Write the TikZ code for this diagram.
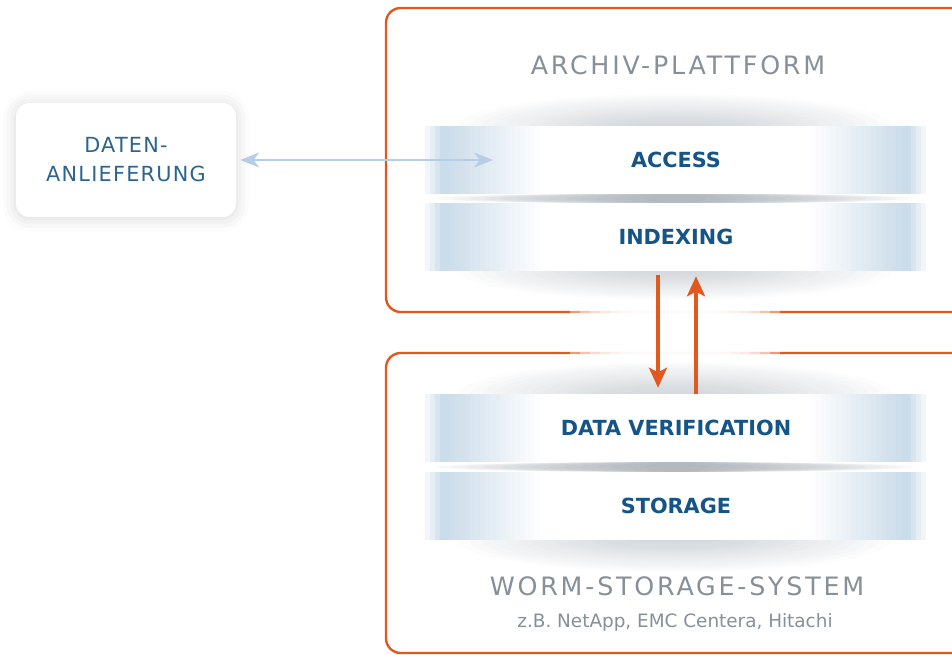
\documentclass[tikz,border=0pt]{standalone}
\usepackage{fontspec}
\setmainfont{DejaVu Sans}
\newfontfamily\titlefont[LetterSpace=11]{DejaVu Sans}
\newfontfamily\boxfont[LetterSpace=6]{DejaVu Sans}
\usetikzlibrary{arrows.meta,shadows.blur}
\definecolor{orng}{RGB}{226,88,30}
\definecolor{dblue}{RGB}{20,84,134}
\definecolor{tblue}{RGB}{45,100,140}
\definecolor{tgray}{RGB}{135,144,152}
\definecolor{bblue}{RGB}{203,220,234}
\definecolor{ablue}{RGB}{182,206,229}
\definecolor{sgray}{RGB}{120,132,144}
\begin{document}
\begin{tikzpicture}[x=0.75pt, y=-0.75pt, >={Stealth[length=15pt,width=13.5pt,inset=3.5pt]},
		box/.style={draw=orng, line width=1.8pt, rounded corners=11pt},
		band/.style={minimum width=375pt, minimum height=51pt, inner sep=0pt, text=dblue, font=\bfseries\fontsize{15.6}{18}\selectfont},
		title/.style={text=tgray, font=\titlefont\fontsize{19}{22}\selectfont},
		sub/.style={text=tgray, font=\fontsize{13.8}{16}\selectfont},
		inbox/.style={fill=white, rounded corners=10pt, minimum width=165pt, minimum height=85.5pt, align=center, text=tblue, font=\boxfont\fontsize{15.6}{21.75}\selectfont, blur shadow={shadow xshift=0pt, shadow yshift=-1pt, shadow blur radius=10pt, shadow opacity=16}},
		shade/.style={fill=sgray, opacity=0.025}]
	\useasboundingbox (0,0) rectangle (952,655);
	\clip (0,0) rectangle (952,655);
	\draw[box] (386,8) rectangle (990,312);
	\draw[box] (386,353) rectangle (990,653);
	\foreach \w in {45,55,...,105}
		\fill[white, opacity=0.4] (675-\w,304) rectangle (675+\w,361);
	\foreach \c/\ry in {126/2, 271/-1.8, 394/2, 540/2}
		\foreach \r in {1,...,16}
			\fill[shade] (675,\c) ellipse ({12*\r+25} and {\ry*\r});
	\foreach \c in {198.5, 467}
		\foreach \r in {1,...,14}
			\fill[shade, opacity=0.06] (675,\c) ellipse ({16*\r+15} and 5);
	\foreach \yt/\yb in {126/194, 203/271, 394/462, 472/540} {
		\fill[white] (425,\yt) rectangle (925,\yb);
		\foreach \i in {0,...,23} {
			\pgfmathsetmacro\p{\i<4 ? 25*(\i+1) : 100*(23-\i)/19}
			\fill[bblue!\p!white] (425+5*\i,\yt) rectangle (430.6+5*\i,\yb);
			\fill[bblue!\p!white] (920-5*\i,\yt) rectangle (925.6-5*\i,\yb);
		}
	}
	\node[title] (arch) at (678,65) {ARCHIV-PLATTFORM};
	\node[band] (acc) at (676,160) {ACCESS};
	\node[band] (idx) at (676,237) {INDEXING};
	\node[band] (dv) at (676,428) {DATA VERIFICATION};
	\node[band] (sto) at (676,506) {STORAGE};
	\node[title] (worm) at (677,586) {WORM-STORAGE-SYSTEM};
	\node[sub] (vend) at (675,622) {z.B. NetApp, EMC Centera, Hitachi};
	\node[inbox] (dat) at (126,160) {DATEN-\\ANLIEFERUNG};
	\coordinate (accin) at (493,160);
	\draw[<->, >={Stealth[length=14pt,width=11pt,inset=4pt]}, ablue, line width=2.2pt, shorten <=3pt] (dat) -- (accin);
	\draw[->, orng, line width=3pt, shorten <=3pt, shorten >=4.5pt] ([xshift=-13.5pt]idx.south) -- ([xshift=-13.5pt]dv.north);
	\draw[->, orng, line width=3pt, shorten >=3.75pt] ([xshift=15pt]dv.north) -- ([xshift=15pt]idx.south);
\end{tikzpicture}
\end{document}
